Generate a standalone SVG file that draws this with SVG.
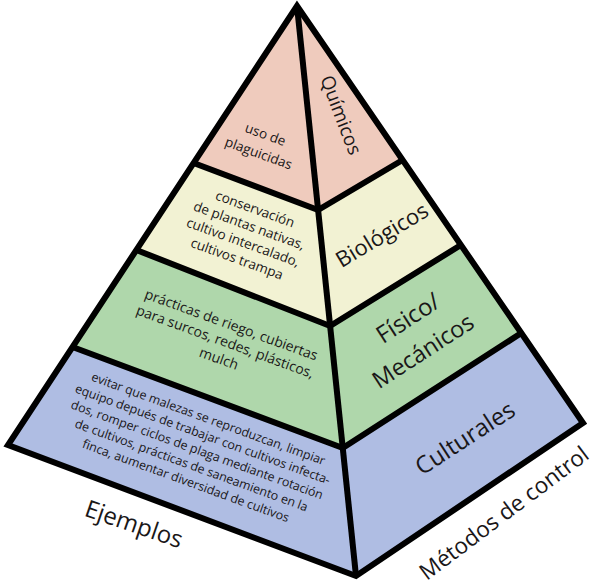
<svg xmlns="http://www.w3.org/2000/svg" width="600" height="588" viewBox="0 0 600 588">
<style>
.pink{fill:#efcbbd}
.yel{fill:#f2f2d3}
.grn{fill:#afd7ab}
.blu{fill:#afbde3}
.ln{fill:none;stroke:#000;stroke-width:6;stroke-linejoin:miter;stroke-linecap:butt}
.t{font-family:"Open Sans","Noto Sans",sans-serif;fill:#1a1718;text-anchor:middle}
.s{font-size:13.5px}
.xs{font-size:12.4px}
</style>
<rect width="600" height="588" fill="#fff"/>
<g id="band-quimicos">
<polygon class="pink" points="297,6 193.6,163 318.1,210 402.6,160"/>
<g transform="translate(262,144) rotate(20)"><text class="t s"><tspan x="0" y="-5.5">uso de</tspan><tspan x="0" y="14.5">plaguicidas</tspan></text></g>
<g transform="translate(341,115) rotate(69)"><text class="t" style="font-size:19px" y="0" dy="0.35em">Químicos</text></g>
</g>
<g id="band-biologicos">
<polygon class="yel" points="193.6,163 136.4,250 330.1,326 460.9,245 402.6,160 318.1,210"/>
<g transform="translate(246,234) rotate(20)"><text class="t s"><tspan x="0" y="-22">conservación</tspan><tspan x="0" y="-4.3">de plantas nativas,</tspan><tspan x="0" y="13.3">cultivo intercalado,</tspan><tspan x="0" y="31">cultivos trampa</tspan></text></g>
<g transform="translate(382,235) rotate(-31)"><text class="t" style="font-size:22px" dy="0.35em">Biológicos</text></g>
</g>
<g id="band-fisico">
<polygon class="grn" points="136.4,250 72.5,347 342.8,448 521.3,333 460.9,245 330.1,326"/>
<g transform="translate(225,342) rotate(20)"><text class="t" style="font-size:14px"><tspan x="0" y="-13.5">prácticas de riego, cubiertas</tspan><tspan x="0" y="4.5">para surcos, redes, plásticos,</tspan><tspan x="0" y="22.5">mulch</tspan></text></g>
<g transform="translate(408,318) rotate(-33)"><text class="t" style="font-size:24px" dy="0.35em">Físico/</text></g>
<g transform="translate(423,351) rotate(-33)"><text class="t" style="font-size:23.5px" dy="0.35em">Mecánicos</text></g>
</g>
<g id="band-culturales">
<polygon class="blu" points="72.5,347 8,445 356,576 583,423 521.3,333 342.8,448"/>
<g transform="translate(197,450) rotate(20)"><text class="t xs"><tspan x="0" y="-29">evitar que malezas se reproduzcan, limpiar</tspan><tspan x="0" y="-12.5">equipo depués de trabajar con cultivos infecta-</tspan><tspan x="0" y="4">dos, romper ciclos de plaga mediante rotación</tspan><tspan x="0" y="20.5">de cultivos, prácticas de saneamiento en la</tspan><tspan x="0" y="37">finca, aumentar diversidad de cultivos</tspan></text></g>
<g transform="translate(465,438) rotate(-33)"><text class="t" style="font-size:24px" dy="0.35em">Culturales</text></g>
</g>
<g id="connectors">
<polyline class="ln" points="193.6,163 318.1,210 402.6,160"/>
<polyline class="ln" points="136.4,250 330.1,326 460.9,245"/>
<polyline class="ln" points="72.5,347 342.8,448 521.3,333"/>
<line class="ln" x1="297" y1="6" x2="356" y2="576"/>
<polygon class="ln" points="297,6 8,445 356,576 583,423"/>
</g>
<g id="axis-labels">
<g transform="translate(134,524) rotate(19)"><text class="t" style="font-size:24px" dy="0.35em">Ejemplos</text></g>
<g transform="translate(504,513) rotate(-37)"><text class="t" style="font-size:22.5px" dy="0.35em">Métodos de control</text></g>
</g>
</svg>
